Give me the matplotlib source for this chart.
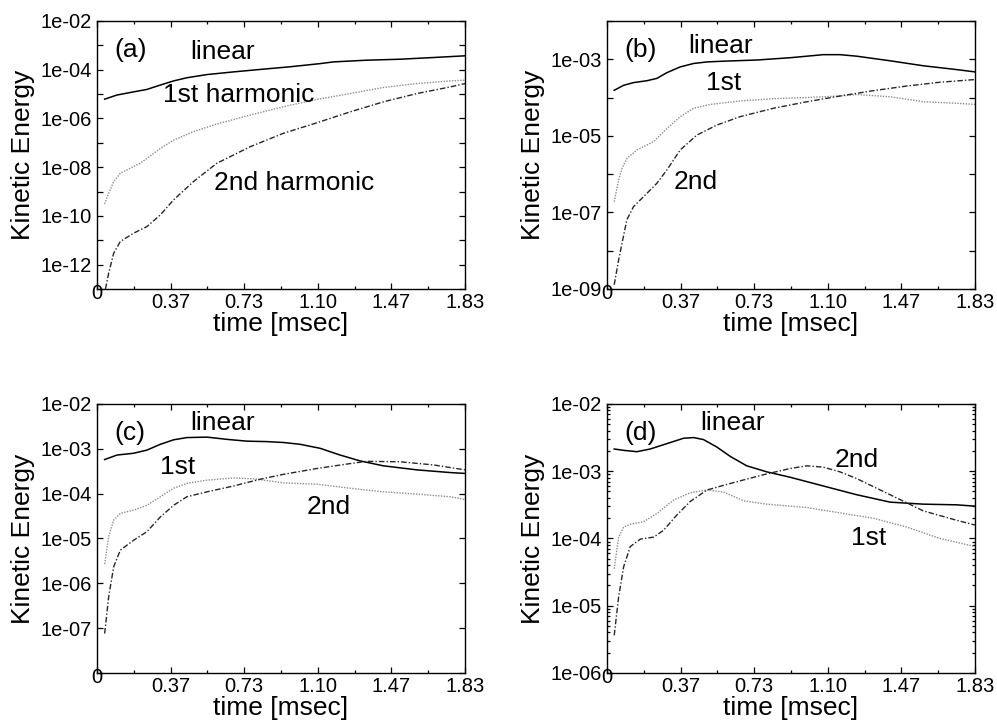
import numpy as np
import matplotlib
matplotlib.use("Agg")
import matplotlib.pyplot as plt
from matplotlib.ticker import FixedLocator, LogLocator, NullFormatter, FuncFormatter

plt.rcParams["font.family"] = ["Liberation Sans", "DejaVu Sans"]

# time axis labels (msec)
XTICKS = [0.0, 0.366, 0.732, 1.098, 1.464, 1.83]
XLABELS = ["", "0.37", "0.73", "1.10", "1.47", "1.83"]

# (a) -- values are log10 of kinetic energy
t_a_lin = [0.038, 0.099, 0.182, 0.248, 0.315, 0.381, 0.447, 0.547, 0.679, 0.811, 0.960, 1.110, 1.176, 1.341, 1.507, 1.673, 1.830]
e_a_lin = [-5.21, -5.04, -4.91, -4.81, -4.63, -4.46, -4.33, -4.20, -4.09, -3.99, -3.88, -3.75, -3.68, -3.61, -3.57, -3.50, -3.43]
t_a_1st = [0.038, 0.058, 0.083, 0.116, 0.149, 0.215, 0.248, 0.315, 0.381, 0.480, 0.596, 0.762, 0.927, 1.093, 1.259, 1.424, 1.590, 1.755, 1.830]
e_a_1st = [-9.51, -9.07, -8.59, -8.25, -8.11, -7.84, -7.64, -7.23, -6.89, -6.54, -6.23, -5.86, -5.52, -5.22, -4.98, -4.73, -4.57, -4.46, -4.43]
t_a_2nd = [0.042, 0.058, 0.083, 0.116, 0.182, 0.248, 0.315, 0.381, 0.480, 0.596, 0.762, 0.927, 1.093, 1.259, 1.424, 1.590, 1.755, 1.830]
e_a_2nd = [-13.0, -12.35, -11.53, -11.05, -10.71, -10.44, -9.96, -9.34, -8.59, -7.84, -7.16, -6.61, -6.18, -5.73, -5.32, -4.98, -4.71, -4.57]

# (b)
t_b_lin = [0.036, 0.083, 0.132, 0.199, 0.248, 0.298, 0.364, 0.431, 0.497, 0.580, 0.745, 0.911, 1.076, 1.159, 1.242, 1.408, 1.573, 1.739, 1.830]
e_b_lin = [-3.81, -3.68, -3.61, -3.56, -3.50, -3.35, -3.20, -3.11, -3.07, -3.05, -3.02, -2.96, -2.88, -2.88, -2.92, -3.04, -3.17, -3.27, -3.33]
t_b_1st = [0.036, 0.058, 0.075, 0.099, 0.149, 0.232, 0.298, 0.364, 0.431, 0.513, 0.662, 0.828, 0.994, 1.159, 1.242, 1.408, 1.573, 1.739, 1.830]
e_b_1st = [-6.72, -6.15, -5.85, -5.59, -5.37, -5.15, -4.81, -4.50, -4.28, -4.18, -4.09, -4.03, -4.00, -3.96, -3.92, -3.98, -4.11, -4.15, -4.18]
t_b_2nd = [0.036, 0.058, 0.075, 0.099, 0.132, 0.199, 0.248, 0.298, 0.364, 0.447, 0.546, 0.662, 0.828, 0.994, 1.159, 1.325, 1.490, 1.656, 1.830]
e_b_2nd = [-8.89, -8.24, -7.80, -7.19, -6.85, -6.50, -6.24, -5.89, -5.37, -4.98, -4.72, -4.50, -4.28, -4.11, -3.96, -3.82, -3.70, -3.60, -3.53]

# (c)
t_c_lin = [0.038, 0.099, 0.182, 0.248, 0.315, 0.381, 0.447, 0.547, 0.646, 0.745, 0.844, 0.927, 1.010, 1.110, 1.209, 1.308, 1.424, 1.590, 1.755, 1.830]
e_c_lin = [-3.24, -3.14, -3.10, -3.03, -2.90, -2.80, -2.75, -2.74, -2.79, -2.83, -2.84, -2.86, -2.90, -2.99, -3.14, -3.27, -3.38, -3.47, -3.53, -3.55]
t_c_1st = [0.038, 0.058, 0.083, 0.116, 0.182, 0.248, 0.315, 0.381, 0.447, 0.547, 0.679, 0.778, 0.927, 1.093, 1.259, 1.424, 1.590, 1.755, 1.830]
e_c_1st = [-5.57, -4.96, -4.59, -4.44, -4.37, -4.26, -4.07, -3.88, -3.77, -3.70, -3.65, -3.67, -3.76, -3.79, -3.88, -3.96, -4.01, -4.07, -4.13]
t_c_2nd = [0.038, 0.058, 0.083, 0.116, 0.182, 0.248, 0.315, 0.381, 0.447, 0.547, 0.679, 0.811, 0.927, 1.093, 1.259, 1.341, 1.507, 1.673, 1.830]
e_c_2nd = [-7.12, -6.30, -5.63, -5.26, -5.04, -4.85, -4.52, -4.26, -4.07, -3.96, -3.83, -3.68, -3.57, -3.44, -3.33, -3.28, -3.29, -3.36, -3.47]

# (d)
t_d_lin = [0.036, 0.083, 0.149, 0.215, 0.298, 0.381, 0.431, 0.480, 0.546, 0.613, 0.695, 0.795, 0.911, 1.076, 1.242, 1.408, 1.573, 1.739, 1.830]
e_d_lin = [-2.67, -2.69, -2.71, -2.67, -2.59, -2.51, -2.50, -2.53, -2.64, -2.78, -2.92, -3.01, -3.09, -3.22, -3.35, -3.46, -3.49, -3.50, -3.52]
t_d_1st = [0.036, 0.058, 0.083, 0.116, 0.182, 0.248, 0.331, 0.414, 0.497, 0.580, 0.679, 0.795, 0.994, 1.159, 1.325, 1.490, 1.656, 1.830]
e_d_1st = [-4.45, -3.98, -3.83, -3.79, -3.75, -3.63, -3.43, -3.32, -3.28, -3.31, -3.44, -3.49, -3.54, -3.62, -3.70, -3.83, -4.00, -4.12]
t_d_2nd = [0.036, 0.058, 0.083, 0.116, 0.166, 0.232, 0.281, 0.348, 0.414, 0.497, 0.580, 0.679, 0.795, 0.911, 0.994, 1.076, 1.159, 1.242, 1.408, 1.573, 1.739, 1.830]
e_d_2nd = [-5.44, -4.87, -4.42, -4.12, -4.01, -3.98, -3.88, -3.65, -3.45, -3.28, -3.21, -3.13, -3.04, -2.96, -2.92, -2.94, -3.01, -3.11, -3.35, -3.59, -3.73, -3.80]

PANELS = [
    dict(tag="(a)", rect=[0.0973, 0.6003, 0.3691, 0.3707], ylim=(-13, -2),
         labels=range(-12, -1, 2), minor=None,
         curves=[(t_a_lin, e_a_lin), (t_a_1st, e_a_1st), (t_a_2nd, e_a_2nd)],
         notes=[("linear", 0.340, 0.884), ("1st harmonic", 0.386, 0.724), ("2nd harmonic", 0.535, 0.396)]),
    dict(tag="(b)", rect=[0.6088, 0.6003, 0.3691, 0.3707], ylim=(-9, -2),
         labels=range(-9, -2, 2), minor=None,
         curves=[(t_b_lin, e_b_lin), (t_b_1st, e_b_1st), (t_b_2nd, e_b_2nd)],
         notes=[("linear", 0.310, 0.907), ("1st", 0.318, 0.769), ("2nd", 0.242, 0.399)]),
    dict(tag="(c)", rect=[0.0973, 0.0692, 0.3691, 0.3721], ylim=(-8, -2),
         labels=range(-7, -1), minor=(2, 5),
         curves=[(t_c_lin, e_c_lin), (t_c_1st, e_c_1st), (t_c_2nd, e_c_2nd)],
         notes=[("linear", 0.340, 0.929), ("1st", 0.220, 0.766), ("2nd", 0.630, 0.617)]),
    dict(tag="(d)", rect=[0.6088, 0.0692, 0.3691, 0.3721], ylim=(-6, -2),
         labels=range(-6, -1), minor=tuple(range(2, 10)),
         curves=[(t_d_lin, e_d_lin), (t_d_1st, e_d_1st), (t_d_2nd, e_d_2nd)],
         notes=[("linear", 0.340, 0.929), ("2nd", 0.679, 0.792), ("1st", 0.712, 0.502)]),
]

STYLES = [
    dict(color="black", lw=1.1, ls="-"),
    dict(color="0.55", lw=1.0, ls=(0, (1, 1))),
    dict(color="0.15", lw=1.0, ls=(0, (4, 1.5, 1, 1.5))),
]

fig = plt.figure(figsize=(9.97, 7.23), dpi=100)

for p in PANELS:
    ax = fig.add_axes(p["rect"])
    for (t, e), st in zip(p["curves"], STYLES):
        ax.plot(t, 10.0 ** np.array(e), **st)
    ax.set_yscale("log")
    lo, hi = p["ylim"]
    ax.set_ylim(10.0 ** lo, 10.0 ** hi)
    ax.set_xlim(0, 1.83)

    # every decade gets a tick, only some carry a label
    shown = set(p["labels"])
    ax.yaxis.set_major_locator(FixedLocator([10.0 ** k for k in range(lo, hi + 1)]))
    ax.yaxis.set_major_formatter(FuncFormatter(
        lambda v, pos, s=shown: ("1e-%02d" % -round(np.log10(v))) if round(np.log10(v)) in s else ""))
    if p["minor"]:
        ax.yaxis.set_minor_locator(LogLocator(base=10, subs=p["minor"]))
    else:
        ax.yaxis.set_minor_locator(FixedLocator([]))
    ax.yaxis.set_minor_formatter(NullFormatter())

    ax.set_xticks(XTICKS, XLABELS)
    ax.xaxis.set_minor_locator(FixedLocator([0.183, 0.549, 0.915, 1.281, 1.647]))

    ax.tick_params(which="both", direction="in", top=True, right=True, width=0.9)
    ax.tick_params(which="major", length=4, labelsize=14.5)
    ax.tick_params(which="minor", length=2.5)
    ax.tick_params(axis="x", which="major", pad=3)
    ax.tick_params(axis="y", which="major", pad=4)
    for sp in ax.spines.values():
        sp.set_linewidth(1.0)

    ax.text(0, -0.015, "0", transform=ax.transAxes, ha="center", va="center", fontsize=14.5)
    ax.set_xlabel("time [msec]", fontsize=19, va="center")
    ax.xaxis.set_label_coords(0.5, -0.13)
    ax.set_ylabel("Kinetic Energy", fontsize=19, va="center")
    ax.yaxis.set_label_coords(-0.20, 0.5)

    ax.text(0.090, 0.892, p["tag"], transform=ax.transAxes, ha="center", va="center", fontsize=19)
    for txt, fx, fy in p["notes"]:
        ax.text(fx, fy, txt, transform=ax.transAxes, ha="center", va="center", fontsize=19)

fig.savefig("out.png", dpi=100)
